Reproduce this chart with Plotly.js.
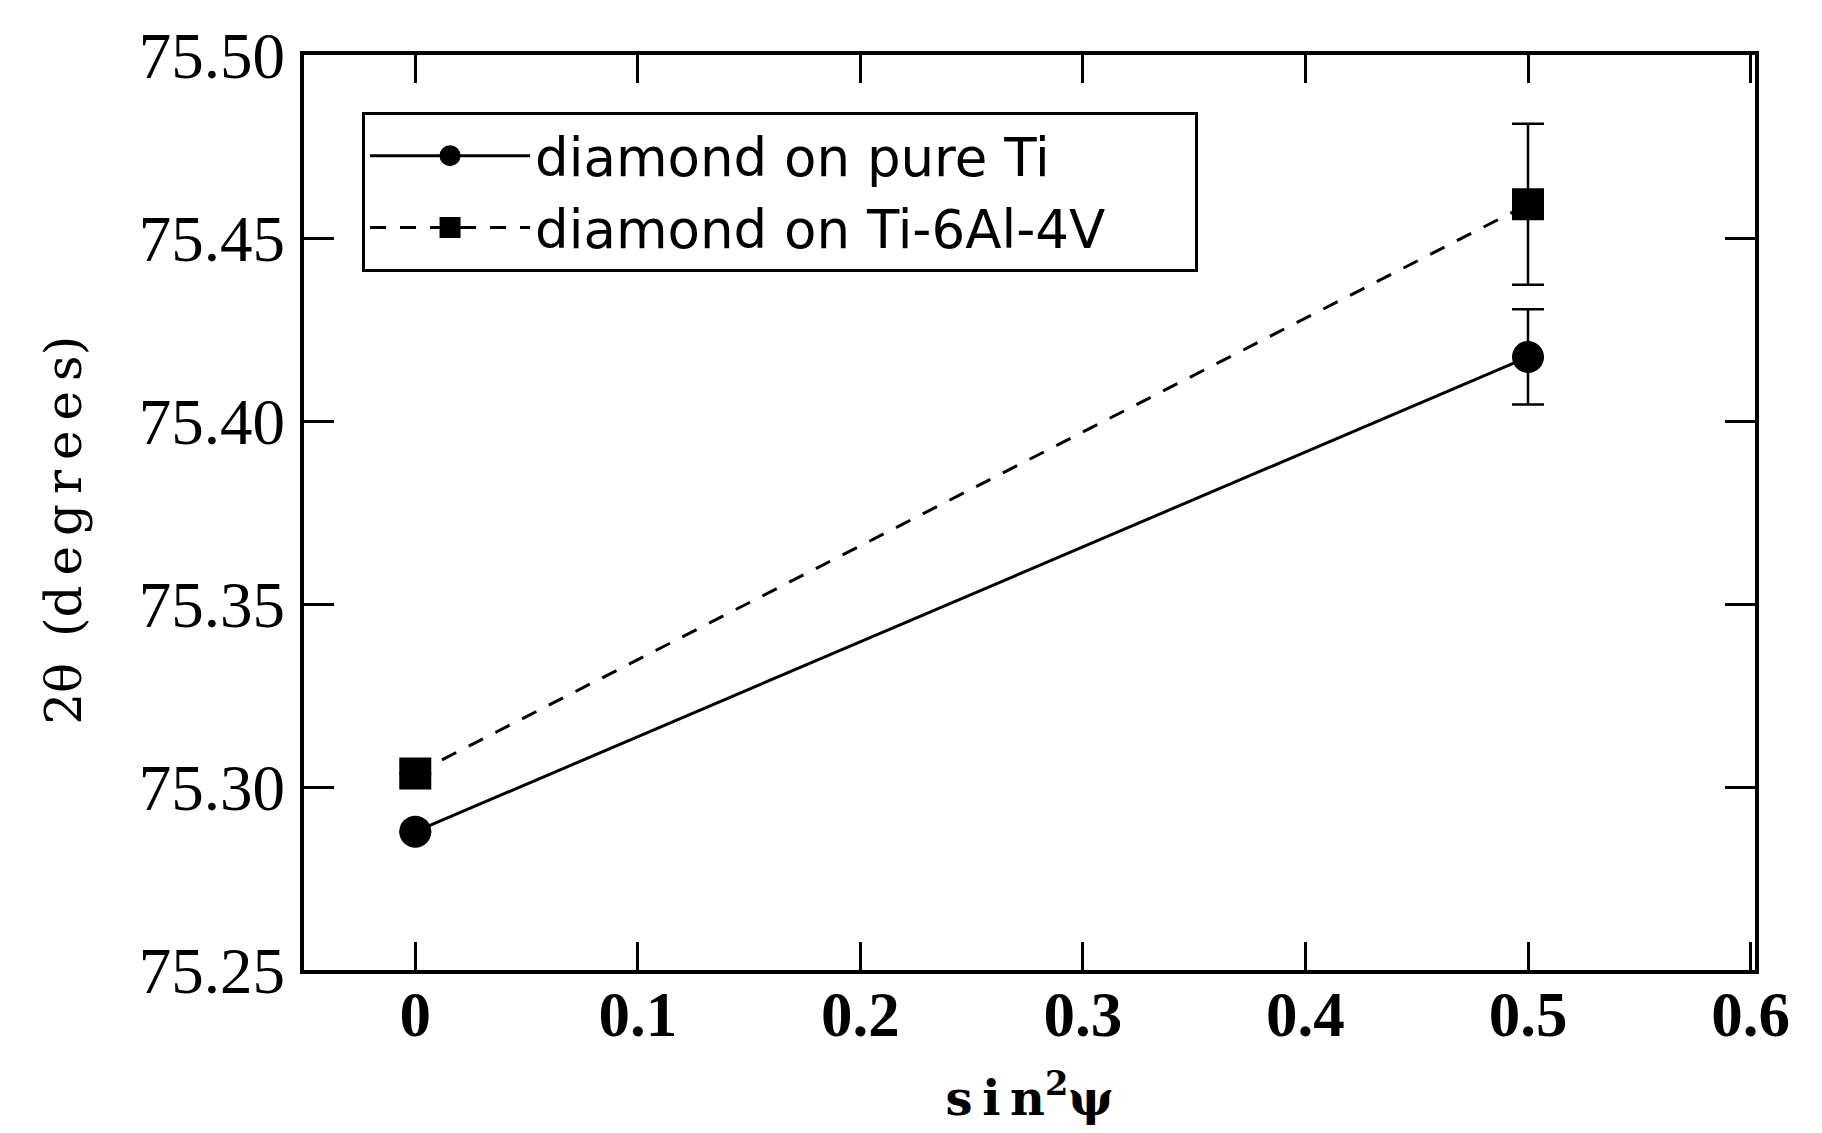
<!DOCTYPE html>
<html>
<head>
<meta charset="utf-8">
<script src="https://cdn.plot.ly/plotly-3.0.1.min.js"></script>
<style>html,body{margin:0;padding:0;background:#fff;}#chart{width:1822px;height:1133px;}</style>
</head>
<body>
<div id="chart"></div>
<script>
// sin^2(psi) values
const sin2psi = [0, 0.5];
// 2theta values (degrees)
const pureTi = [75.2878, 75.4175];
const pureTiErr = [0, 0.013];
const ti64 = [75.3037, 75.4592];
const ti64Err = [0, 0.022];
const seriesNames = ["diamond on pure Ti", "diamond on Ti-6Al-4V"];
const xTicks = [0, 0.1, 0.2, 0.3, 0.4, 0.5, 0.6];
const yTicks = [75.25, 75.30, 75.35, 75.40, 75.45, 75.50];

const NB = '\u00a0';
const pad = NB.repeat(5);

const traces = [
  {
    x: sin2psi, y: pureTi, name: seriesNames[0] + pad, type: 'scatter', mode: 'lines+markers',
    line: {color: '#000', width: 3, dash: 'solid'},
    marker: {symbol: 'circle', size: 27, color: '#000', line: {color: '#000', width: 5}},
    error_y: {type: 'data', array: pureTiErr, visible: true, color: '#000', thickness: 2.5, width: 16}
  },
  {
    x: sin2psi, y: ti64, name: seriesNames[1] + pad, type: 'scatter', mode: 'lines+markers',
    line: {color: '#000', width: 3, dash: '16px,14px'},
    marker: {symbol: 'square', size: 27, color: '#000', line: {color: '#000', width: 5}},
    error_y: {type: 'data', array: ti64Err, visible: true, color: '#000', thickness: 2.5, width: 16}
  }
];

const serif = 'Liberation Serif, Times New Roman, serif';
const titleFont = 'DejaVu Serif, serif';
const TS = '\u2009';

const layout = {
  width: 1822, height: 1133,
  paper_bgcolor: '#fff', plot_bgcolor: '#fff',
  margin: {l: 304, r: 67, t: 55, b: 163},
  showlegend: true,
  legend: {
    x: 0.040, y: 0.938, xanchor: 'left', yanchor: 'top',
    bgcolor: '#fff', bordercolor: '#000', borderwidth: 3,
    font: {family: 'DejaVu Sans, sans-serif', size: 53, color: '#000'},
    itemwidth: 160, tracegroupgap: 0
  },
  xaxis: {
    range: [-0.05, 0.602],
    tickvals: xTicks, ticktext: xTicks.map(v => v === 0 ? '0' : v.toFixed(1)),
    ticks: 'inside', ticklen: 28, tickwidth: 3, tickcolor: '#000',
    showline: true, linewidth: 4, linecolor: '#000', mirror: 'ticks',
    showgrid: false, zeroline: false,
    ticklabelstandoff: -14,
    tickfont: {family: serif, size: 63, color: '#000', weight: 'bold'},
    title: {text: 's' + TS + 'i' + TS + 'n<sup>2</sup>ψ', font: {family: titleFont, size: 48, color: '#000', weight: 'bold'}, standoff: 34}
  },
  yaxis: {
    range: [75.25, 75.50],
    tickvals: yTicks, ticktext: yTicks.map(v => v.toFixed(2)),
    ticks: 'inside', ticklen: 30, tickwidth: 3, tickcolor: '#000',
    showline: true, linewidth: 4, linecolor: '#000', mirror: 'ticks',
    showgrid: false, zeroline: false,
    ticklabelstandoff: 2,
    tickfont: {family: serif, size: 65, color: '#000'}
  },
  annotations: [{
    text: '2θ' + TS + ' (' + 'degrees'.split('').join(TS) + ')',
    xref: 'paper', yref: 'paper', x: -0.1654, y: 0.48,
    xanchor: 'center', yanchor: 'middle', textangle: -90, showarrow: false,
    font: {family: titleFont, size: 50, color: '#000', weight: 500}
  }]
};

Plotly.newPlot('chart', traces, layout, {displayModeBar: false, staticPlot: true});
</script>
</body>
</html>
